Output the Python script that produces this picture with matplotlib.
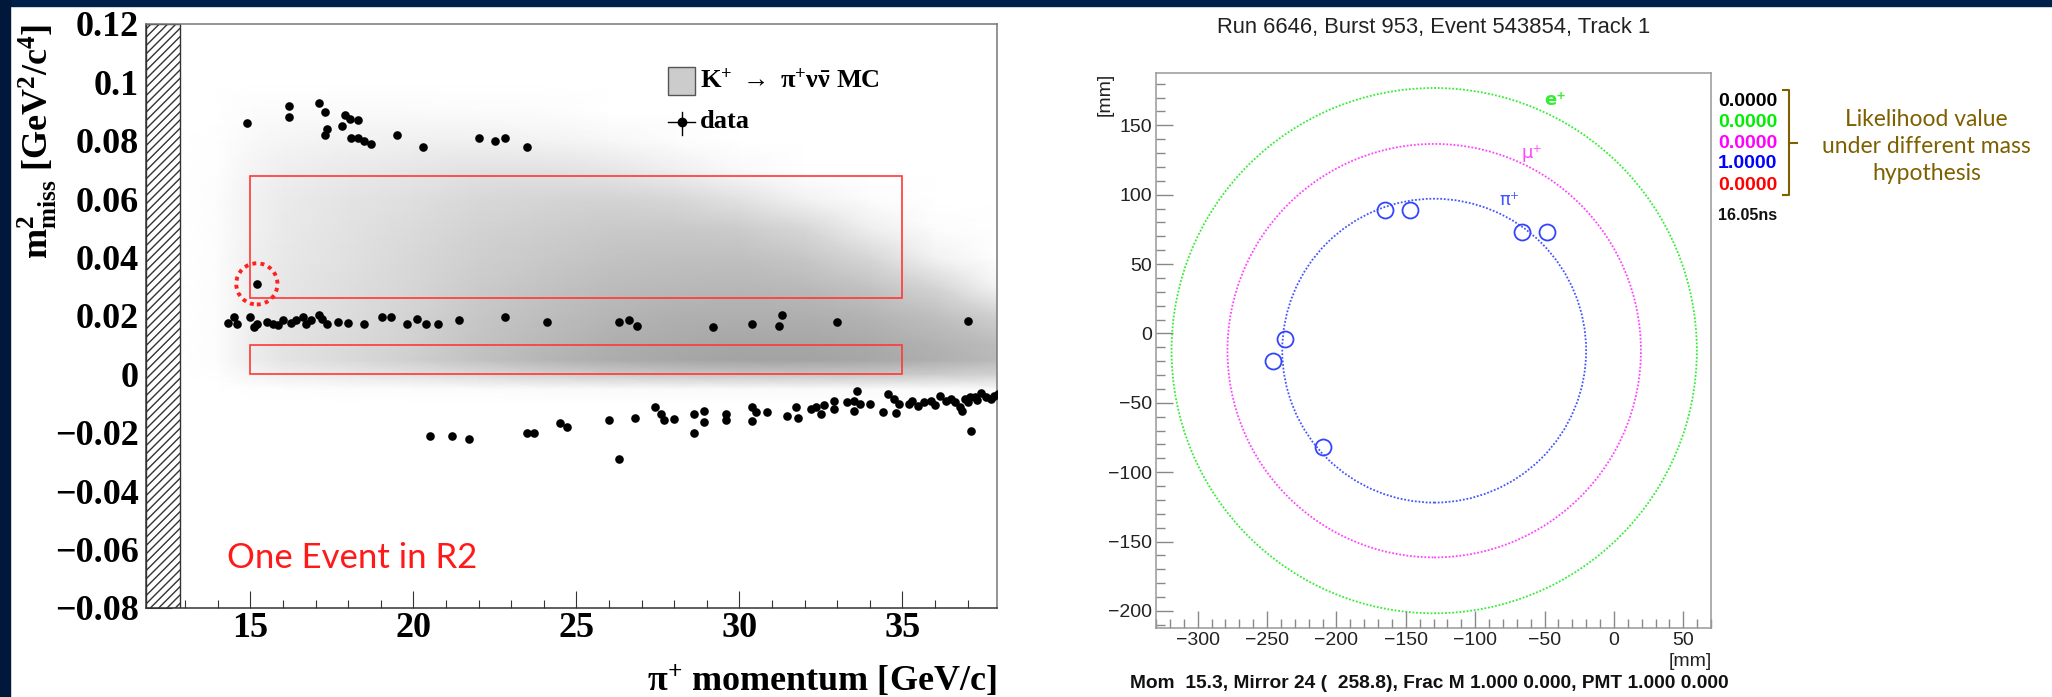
import matplotlib
matplotlib.use('Agg')
import matplotlib.pyplot as plt
import numpy as np
from matplotlib.colors import LinearSegmentedColormap
from matplotlib.patches import Rectangle, Circle
from matplotlib.lines import Line2D
from matplotlib.ticker import MultipleLocator

# ---------------- left panel: m2_miss vs pi+ momentum ----------------
# data events (p in GeV/c, m2 in GeV^2/c^4)
upper_p = [14.9, 16.2, 16.2, 17.1, 17.3, 17.35, 17.3, 17.8, 17.9, 18.05, 18.3, 18.1,
           18.3, 18.5, 18.7, 19.5, 20.3, 22.0, 22.5, 22.8, 23.5]
upper_m2 = [0.086, 0.092, 0.088, 0.093, 0.090, 0.084, 0.082, 0.085, 0.089, 0.0876, 0.087,
            0.081, 0.081, 0.080, 0.079, 0.082, 0.078, 0.081, 0.080, 0.081, 0.078]

mid_p = [14.3, 14.5, 14.6, 15.0, 15.1, 15.2, 15.5, 15.7, 15.85, 16.0, 16.25, 16.4, 16.6,
         16.7, 16.85, 17.1, 17.2, 17.35, 17.7, 18.0, 18.5, 19.05, 19.3, 19.8, 20.1, 20.4,
         20.75, 21.4, 22.8, 24.1, 26.3, 26.6, 26.85, 29.2, 30.4, 31.3, 31.2, 33.0, 37.0]
mid_m2 = [0.0177, 0.0197, 0.0171, 0.0197, 0.0163, 0.0174, 0.018, 0.0174, 0.0168, 0.0186,
          0.0177, 0.0186, 0.0197, 0.0171, 0.0186, 0.0203, 0.0191, 0.0174, 0.018, 0.0177,
          0.0174, 0.0197, 0.0197, 0.0174, 0.0191, 0.0174, 0.0174, 0.0186, 0.0197, 0.018,
          0.018, 0.0186, 0.0165, 0.0163, 0.0171, 0.0205, 0.0167, 0.0178, 0.0183]

lower_p = [20.5, 21.2, 21.7, 23.5, 23.7, 24.5, 24.7, 26.0, 26.3, 26.8, 27.4, 27.6, 27.7,
           28.0, 28.6, 28.9, 28.9, 28.6, 29.6, 29.6, 30.4, 30.5, 30.4, 30.85, 31.45, 31.75,
           31.8, 32.2, 32.35, 32.6, 32.5, 32.9, 32.9, 33.3, 33.5, 33.6, 33.5, 33.7, 34.0,
           34.4, 34.55, 34.75, 34.8, 34.9, 35.2, 35.3, 35.47, 35.67, 35.88, 36.0, 36.14,
           36.35, 36.5, 36.6, 36.77, 36.82, 36.93, 37.0, 37.08, 37.24, 37.3, 37.4, 37.55,
           37.71, 37.8, 37.92, 37.1]
lower_m2 = [-0.021, -0.021, -0.022, -0.020, -0.020, -0.0165, -0.018, -0.0155, -0.029,
            -0.015, -0.011, -0.0137, -0.0156, -0.0154, -0.0137, -0.0125, -0.0163, -0.020,
            -0.0137, -0.0157, -0.0113, -0.013, -0.0159, -0.0128, -0.0144, -0.0113, -0.0151,
            -0.012, -0.011, -0.0106, -0.0137, -0.0092, -0.012, -0.0096, -0.0092, -0.0056,
            -0.0125, -0.0102, -0.0102, -0.0128, -0.0068, -0.0085, -0.0131, -0.0102, -0.0102,
            -0.009, -0.0108, -0.0096, -0.0092, -0.0105, -0.0073, -0.0092, -0.0085, -0.0096,
            -0.0113, -0.0125, -0.0085, -0.0095, -0.0079, -0.0079, -0.0088, -0.0062, -0.0079,
            -0.0085, -0.0075, -0.0068, -0.0195]

r2_event = (15.2, 0.031)

mc_p = [13, 14, 15, 16, 18, 20, 22, 24, 26, 28, 30, 32, 34, 36, 38]
mc_m2 = [-0.01, -0.005, 0.0, 0.005, 0.01, 0.02, 0.03, 0.04, 0.05, 0.06, 0.07, 0.08, 0.09, 0.10]
mc_density = [
    [0, 0, 0, 0, 0, 0, 0, 0, 0, 0, 0, 0, 0, 0, 0],
    [0, 0, 0.01, 0.01, 0.02, 0.02, 0.03, 0.04, 0.04, 0.04, 0.04, 0.04, 0.04, 0.04, 0.04],
    [0, 0.01, 0.08, 0.12, 0.17, 0.22, 0.28, 0.34, 0.39, 0.42, 0.43, 0.43, 0.42, 0.38, 0.34],
    [0, 0.02, 0.13, 0.20, 0.28, 0.36, 0.46, 0.55, 0.62, 0.66, 0.69, 0.69, 0.66, 0.60, 0.52],
    [0, 0.02, 0.13, 0.20, 0.28, 0.35, 0.45, 0.53, 0.60, 0.64, 0.67, 0.67, 0.64, 0.58, 0.50],
    [0, 0.02, 0.12, 0.19, 0.26, 0.33, 0.42, 0.49, 0.55, 0.59, 0.60, 0.60, 0.56, 0.48, 0.35],
    [0, 0.02, 0.12, 0.18, 0.25, 0.31, 0.39, 0.45, 0.50, 0.53, 0.54, 0.52, 0.45, 0.32, 0.08],
    [0, 0.02, 0.11, 0.17, 0.23, 0.29, 0.36, 0.41, 0.45, 0.47, 0.47, 0.42, 0.30, 0.10, 0.0],
    [0, 0.02, 0.10, 0.16, 0.22, 0.27, 0.33, 0.37, 0.40, 0.41, 0.38, 0.30, 0.12, 0.02, 0],
    [0, 0.02, 0.10, 0.15, 0.20, 0.24, 0.29, 0.32, 0.33, 0.30, 0.22, 0.10, 0.02, 0, 0],
    [0, 0.01, 0.08, 0.12, 0.16, 0.19, 0.22, 0.22, 0.19, 0.12, 0.05, 0, 0, 0, 0],
    [0, 0.01, 0.05, 0.08, 0.10, 0.11, 0.11, 0.09, 0.06, 0.02, 0, 0, 0, 0, 0],
    [0, 0, 0.02, 0.03, 0.04, 0.04, 0.03, 0.02, 0, 0, 0, 0, 0, 0, 0],
    [0, 0, 0, 0, 0, 0, 0, 0, 0, 0, 0, 0, 0, 0, 0],
]

region_r1 = (15, 35, 0.0, 0.01)
region_r2 = (15, 35, 0.026, 0.068)

x_ticks = [15, 20, 25, 30, 35]
y_ticks = [-0.08, -0.06, -0.04, -0.02, 0, 0.02, 0.04, 0.06, 0.08, 0.1, 0.12]
y_tick_labels = ['\u22120.08', '\u22120.06', '\u22120.04', '\u22120.02', '0', '0.02',
                 '0.04', '0.06', '0.08', '0.1', '0.12']

# ---------------- right panel: RICH ring display ----------------
ring_center = (-129.5, -12.4)
ring_labels = ['e\u207a', '\u03bc\u207a', '\u03c0\u207a']
ring_weights = ['bold', 'normal', 'normal']
ring_radius = [189.3, 149.0, 109.5]
ring_colors = ['#33ee33', '#ff44ff', '#4455ff']
ring_label_x = [-42, -59, -75]
ring_label_y = [168, 130, 96]

hit_x = [-165, -147, -66, -48, -237, -246, -210]
hit_y = [89, 89, 73, 73, -4, -20, -82]

like_values = ['0.0000', '0.0000', '0.0000', '1.0000', '0.0000']
like_colors = ['#000000', '#00ee00', '#ff00ff', '#0000ff', '#ff0000']

# ---------------- figure ----------------
plt.rcParams['mathtext.rm'] = 'Liberation Serif:bold'
plt.rcParams['mathtext.it'] = 'Liberation Serif:italic:bold'
plt.rcParams['mathtext.bf'] = 'Liberation Serif:bold'

W, H = 2052, 697
fig = plt.figure(figsize=(W / 100, H / 100), dpi=100, facecolor='white')

# slide background strips
fig.add_artist(Rectangle((0, 1 - 6 / H), 1, 6 / H, transform=fig.transFigure,
                         color='#00214a', zorder=0))
fig.add_artist(Rectangle((0, 0), 10 / W, 1, transform=fig.transFigure,
                         color='#02183a', zorder=0))

serif_b = dict(fontfamily='Liberation Serif', fontweight='bold', math_fontfamily='custom')

# left axes
ax = fig.add_axes([146 / W, 1 - 608 / H, 851 / W, 584 / H])
grey_map = LinearSegmentedColormap.from_list('mc', ['#ffffff', '#7a7a7a'])
ax.pcolormesh(mc_p, mc_m2, np.array(mc_density), shading='gouraud', cmap=grey_map,
              vmin=0, vmax=1, zorder=1)
ax.axvspan(11.8, 12.84, facecolor='white', edgecolor='#333333', hatch='////',
           linewidth=1, zorder=2)

for x0, x1, y0, y1 in [region_r1, region_r2]:
    ax.add_patch(Rectangle((x0, y0), x1 - x0, y1 - y0, fill=False, edgecolor='#ff3838',
                           linewidth=1.2, zorder=3))

all_p = upper_p + mid_p + lower_p + [r2_event[0]]
all_m2 = upper_m2 + mid_m2 + lower_m2 + [r2_event[1]]
ax.plot(all_p, all_m2, 'o', color='black', ms=6.2, mew=0, zorder=4)
ax.scatter([r2_event[0]], [r2_event[1]], s=880, facecolors='none', edgecolors='#ff2020',
           linewidths=2.8, linestyle=(0, (1.0, 1.1)), zorder=5)

ax.set_xlim(11.8, 37.9)
ax.set_ylim(-0.08, 0.12)
ax.set_xticks(x_ticks)
ax.set_xticklabels([str(t) for t in x_ticks], fontsize=26, **serif_b)
ax.xaxis.set_minor_locator(MultipleLocator(1))
ax.set_yticks(y_ticks)
ax.set_yticklabels(y_tick_labels, fontsize=26, **serif_b)
ax.yaxis.set_minor_locator(MultipleLocator(0.005))
ax.tick_params(which='both', direction='in', top=False, right=False, color='#333333',
               width=0.8)
ax.tick_params(axis='y', which='major', length=18.7, pad=5)
ax.tick_params(axis='y', which='minor', length=9.4)
ax.tick_params(axis='x', which='major', length=12, pad=3)
ax.tick_params(axis='x', which='minor', length=6)
for side in ['left', 'bottom']:
    ax.spines[side].set_color('#333333')
for side in ['top', 'right']:
    ax.spines[side].set_color('#777777')
for side in ax.spines:
    ax.spines[side].set_linewidth(1.1)

ax.set_xlabel(r'$\mathrm{\pi^{+}}$ momentum [GeV/c]', fontsize=26, **serif_b)
ax.xaxis.set_label_coords(1.0, -0.095)
ax.xaxis.label.set_horizontalalignment('right')
fig.text(37 / W, 1 - 24 / H, r'$\mathrm{m^{2}_{miss}}$ [GeV$^{2}$/c$^{4}$]', rotation=90,
         ha='center', va='top', fontsize=26, **serif_b)

# legend drawn by hand in ROOT style
ax.add_patch(Rectangle((0.6134, 0.8784), 0.0317, 0.0479, transform=ax.transAxes,
                       facecolor='#cccccc', edgecolor='#555555', linewidth=1, zorder=6))
ax.text(0.651, 0.9024, r'$\mathrm{K^{+}}\ \rightarrow\ \mathrm{\pi^{+}\nu\bar{\nu}}$ MC',
        transform=ax.transAxes, ha='left', va='center', fontsize=19, zorder=6, **serif_b)
ax.plot([0.6295], [0.8327], 'o', color='black', ms=6, transform=ax.transAxes, zorder=6)
ax.plot([0.6134, 0.6451], [0.8327, 0.8327], color='black', lw=1, transform=ax.transAxes,
        zorder=6)
ax.plot([0.6295, 0.6295], [0.8099, 0.8493], color='black', lw=1, transform=ax.transAxes,
        zorder=6)
ax.text(0.651, 0.8327, 'data', transform=ax.transAxes, ha='left', va='center',
        fontsize=19, zorder=6, **serif_b)

fig.text(227 / W, 1 - 558 / H, 'One Event in R2', color='#ff1a1a', fontfamily='Lato',
         fontsize=25, ha='left', va='center')

# right axes
bx = fig.add_axes([1156 / W, 1 - 628.3 / H, 555 / W, 555 / H])
for r, c in zip(ring_radius, ring_colors):
    bx.add_patch(Circle(ring_center, r, fill=False, edgecolor=c, linewidth=1.3,
                        linestyle=(0, (1, 1))))
bx.plot(hit_x, hit_y, 'o', ms=11.5, mfc='none', mec='#3344ff', mew=1.3)
for lab, wt, lx, ly, c in zip(ring_labels, ring_weights, ring_label_x, ring_label_y,
                              ring_colors):
    bx.text(lx, ly, lab, color=c, fontsize=13, fontweight=wt, ha='center', va='center',
            fontfamily=['DejaVu Sans'])

bx.set_xlim(-330, 70)
bx.set_ylim(-212.5, 187.5)
bx.xaxis.set_major_locator(MultipleLocator(50))
bx.xaxis.set_minor_locator(MultipleLocator(10))
bx.yaxis.set_major_locator(MultipleLocator(50))
bx.yaxis.set_minor_locator(MultipleLocator(10))
bx.tick_params(which='both', direction='in', top=False, right=False, color='#888888',
               width=1, labelcolor='#222222', labelsize=14)
bx.tick_params(which='major', length=12, pad=3)
bx.tick_params(which='minor', length=6.5)
for lab in bx.get_xticklabels() + bx.get_yticklabels():
    lab.set_fontfamily('Liberation Sans')
for side in bx.spines:
    bx.spines[side].set_color('#999999')
    bx.spines[side].set_linewidth(1.1)

sans = dict(fontfamily='Liberation Sans')
fig.text(1434 / W, 1 - 27 / H, 'Run 6646, Burst 953, Event 543854, Track 1', ha='center',
         va='center', fontsize=15.8, color='#222222', **sans)
fig.text(1105 / W, 1 - 73 / H, '[mm]', rotation=90, ha='center', va='top', fontsize=14,
         color='#222222', **sans)
fig.text(1712 / W, 1 - 662 / H, '[mm]', ha='right', va='center', fontsize=14,
         color='#222222', **sans)
fig.text(1130 / W, 1 - 683 / H,
         'Mom  15.3, Mirror 24 (  258.8), Frac M 1.000 0.000, PMT 1.000 0.000',
         ha='left', va='center', fontsize=13.8, fontweight='bold', color='#111111', **sans)

like_y = [101, 122.3, 143.3, 164, 185]
for v, c, py in zip(like_values, like_colors, like_y):
    fig.text(1718 / W, 1 - py / H, v, color=c, ha='left', va='center', fontsize=14,
             fontweight='bold', **sans)
fig.text(1718 / W, 1 - 215.7 / H, '16.05ns', ha='left', va='center', fontsize=11.5,
         fontweight='bold', color='#111111', **sans)

# brace and annotation
brace_c = '#7f6000'
bx_px = [1783, 1789, 1789, 1783]
by_px = [90, 90, 195, 195]
fig.add_artist(Line2D([x / W for x in bx_px], [1 - y / H for y in by_px],
                      color=brace_c, lw=1.5, transform=fig.transFigure))
fig.add_artist(Line2D([1789 / W, 1797 / W], [1 - 143 / H, 1 - 143 / H], color=brace_c,
                      lw=1.5, transform=fig.transFigure))
fig.text(1926.7 / W, 1 - 146.7 / H, 'Likelihood value\nunder different mass\nhypothesis',
         ha='center', va='center', fontsize=16.5, color=brace_c, fontfamily='Lato',
         linespacing=1.35)

fig.savefig('out.png', dpi=100, facecolor='white')
